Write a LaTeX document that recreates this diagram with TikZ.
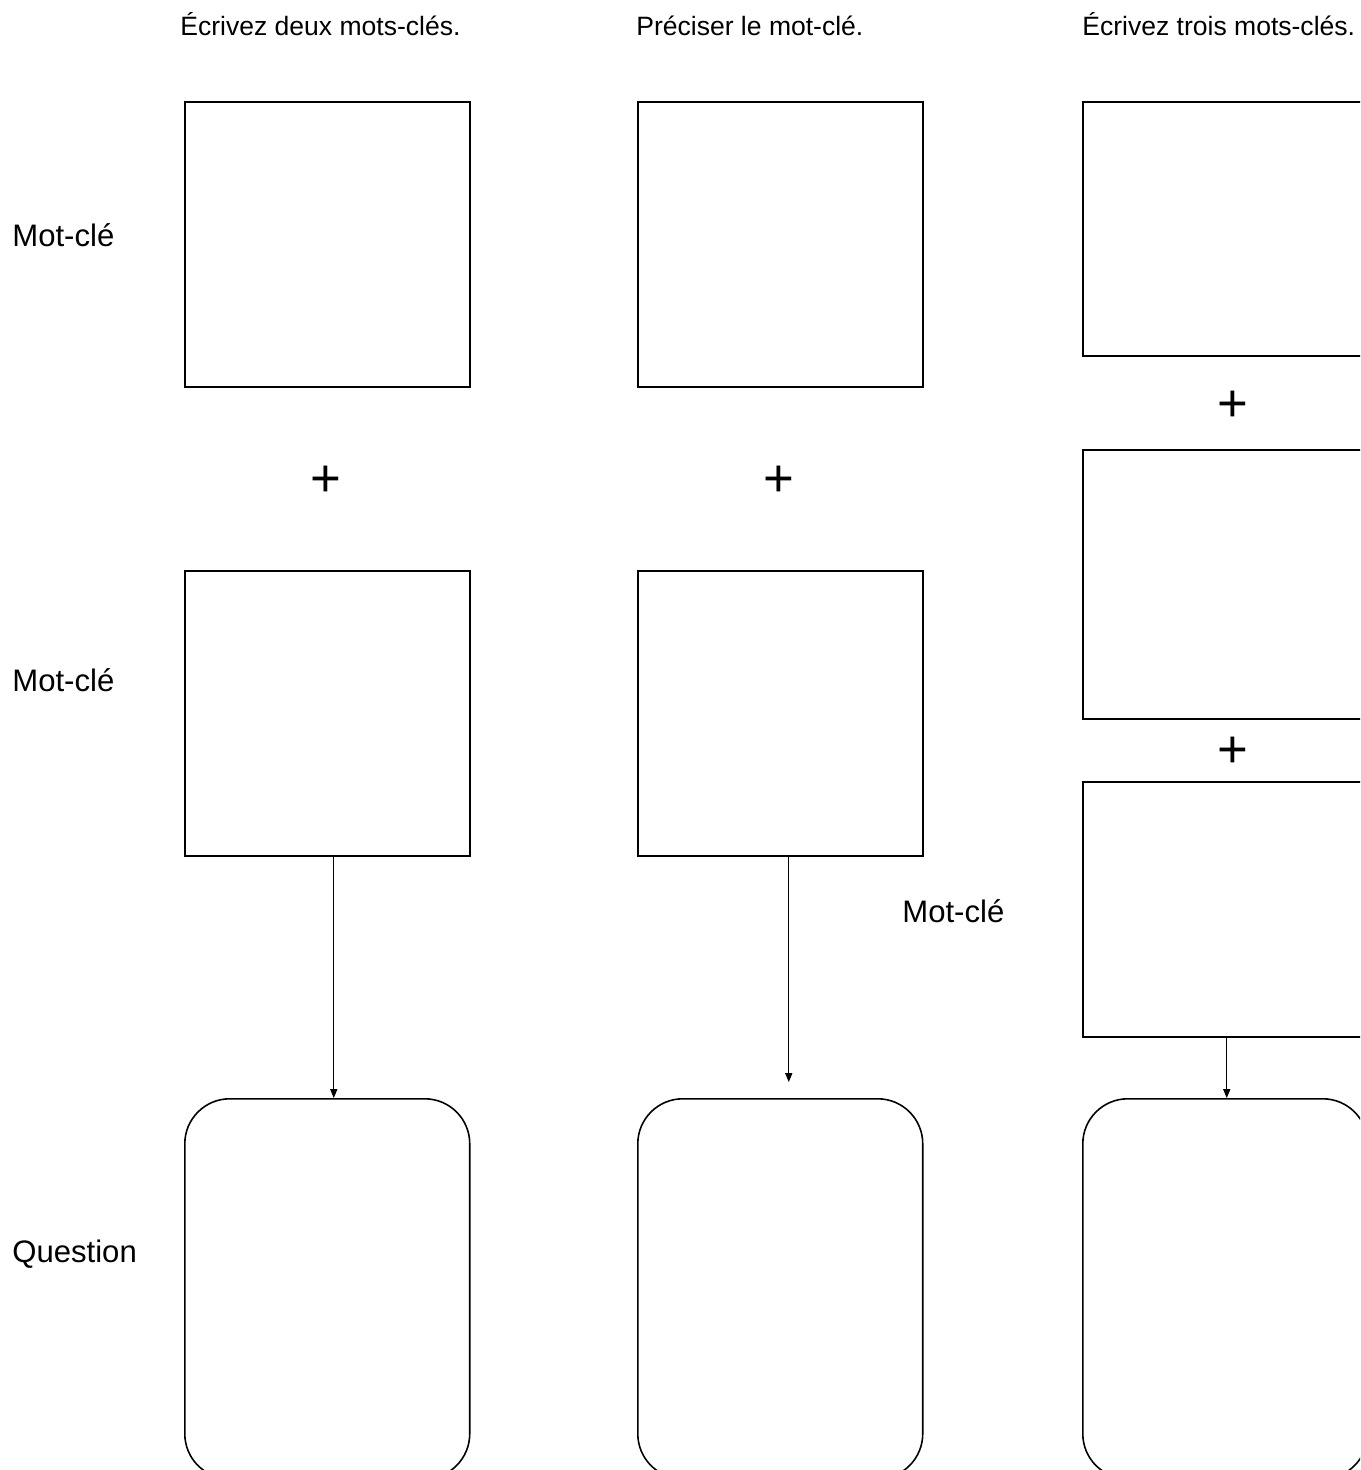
\documentclass[tikz,border=0pt]{standalone}
\usepackage{fontspec}
\setmainfont{Liberation Sans}
\usetikzlibrary{arrows.meta, positioning}

\begin{document}
\begin{tikzpicture}[
  x=0.02cm, y=-0.02cm,
  keybox/.style={rectangle, draw=black, line width=0.9pt, minimum width=5.7cm, anchor=north west, inner sep=0pt},
  qbox/.style={rectangle, draw=black, line width=0.9pt, rounded corners=0.9cm, minimum width=5.7cm, minimum height=7.6cm, anchor=north west, inner sep=0pt},
  arrow/.style={-{Triangle[length=5pt, width=4pt]}, line width=0.7pt},
  plussign/.style={font=\fontsize{30}{30}\selectfont, inner sep=0pt},
  colhead/.style={font=\fontsize{15.1}{18}\selectfont, anchor=base west, inner sep=0pt},
  rowlabel/.style={font=\fontsize{17.7}{21}\selectfont, anchor=base west, inner sep=0pt}
]
\useasboundingbox (0,0) rectangle (1360,1470);
\clip (0,0) rectangle (1360,1470);

% Column headers
\node[colhead] (h1) at (180,36) {Écrivez deux mots-clés.};
\node[colhead] (h2) at (636,36) {Préciser le mot-clé.};
\node[colhead] (h3) at (1082,36) {Écrivez trois mots-clés.};

% Row labels
\node[rowlabel] (l1) at (12,246) {Mot-clé};
\node[rowlabel] (l2) at (12,691) {Mot-clé};
\node[rowlabel] (l3) at (902,922) {Mot-clé};
\node[rowlabel] (l4) at (12,1262) {Question};

% Column 1
\node[keybox, minimum height=5.7cm] (k11) at (184,101) {};
\node[plussign] (p1) at (326,481) {+};
\node[keybox, minimum height=5.7cm] (k12) at (184,570) {};
\node[qbox] (q1) at (184,1098) {};
\draw[arrow] ([xshift=0.13cm]k12.south) -- ([xshift=0.13cm]q1.north);

% Column 2
\node[keybox, minimum height=5.7cm] (k21) at (637,101) {};
\node[plussign] (p2) at (779,481) {+};
\node[keybox, minimum height=5.7cm] (k22) at (637,570) {};
\node[qbox] (q2) at (637,1098) {};
\draw[arrow, shorten >=0.32cm] ([xshift=0.17cm]k22.south) -- ([xshift=0.17cm]q2.north);

% Column 3
\node[keybox, minimum height=5.08cm] (k31) at (1082,101) {};
\node[plussign] (p3) at (1233,406) {+};
\node[keybox, minimum height=5.38cm] (k32) at (1082,449) {};
\node[plussign] (p4) at (1233,752) {+};
\node[keybox, minimum height=5.1cm] (k33) at (1082,781) {};
\node[qbox] (q3) at (1082,1098) {};
\draw[arrow] ([xshift=0.03cm]k33.south) -- ([xshift=0.03cm]q3.north);

\end{tikzpicture}
\end{document}
